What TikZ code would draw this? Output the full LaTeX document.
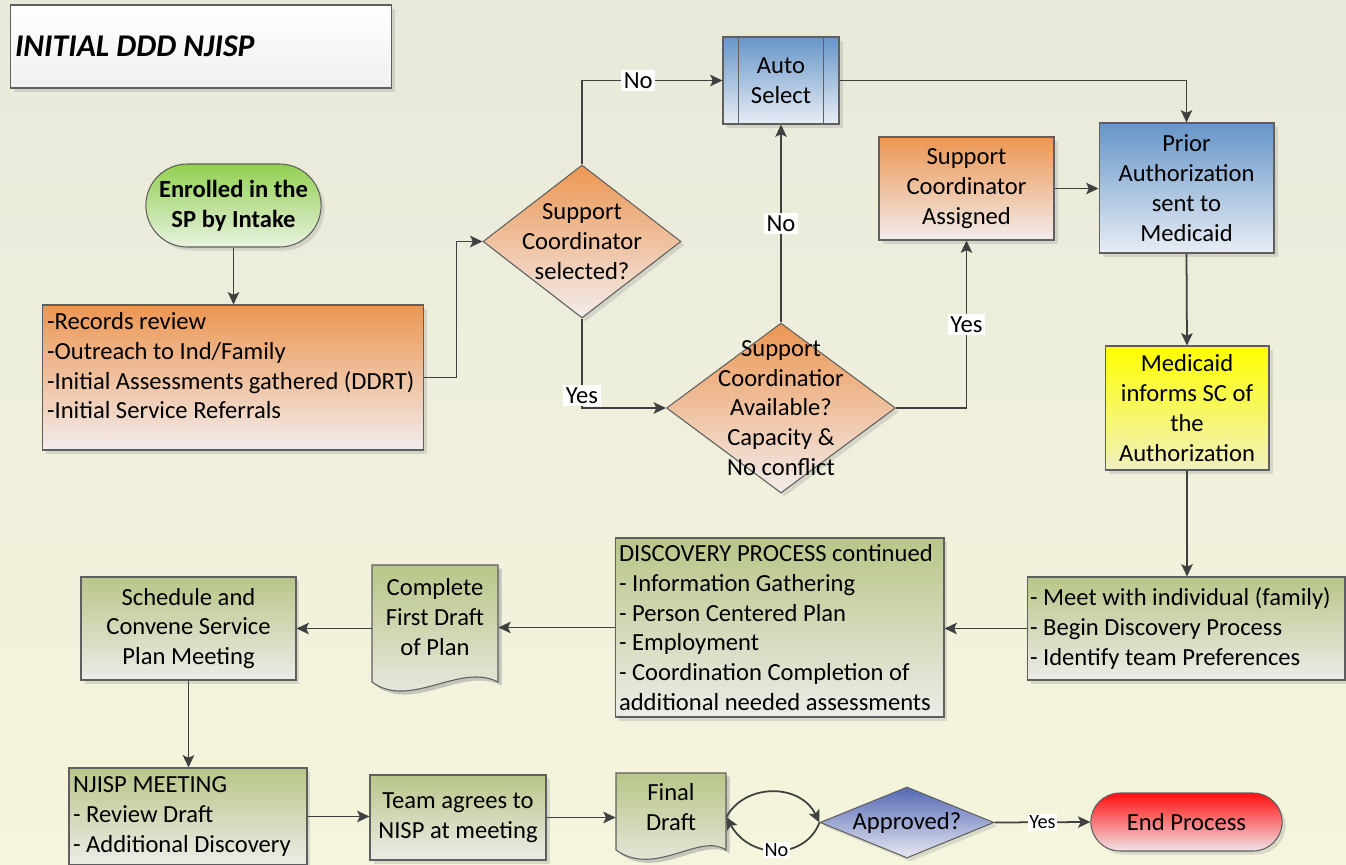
\documentclass[tikz,border=0pt]{standalone}
\usepackage{fontspec}
\setmainfont{Carlito}
\usetikzlibrary{arrows.meta,shapes.geometric,shapes.misc,shadows}
\hyphenpenalty=10000
\exhyphenpenalty=10000

\definecolor{bgtop}{RGB}{233,233,219}
\definecolor{bgbot}{RGB}{245,245,221}
\definecolor{borderC}{RGB}{95,95,95}
\definecolor{lineC}{RGB}{64,64,64}
\definecolor{orangeT}{RGB}{236,150,82}
\definecolor{orangeB}{RGB}{242,236,236}
\definecolor{blueT}{RGB}{102,150,200}
\definecolor{blueB}{RGB}{233,237,245}
\definecolor{greenT}{RGB}{146,208,80}
\definecolor{greenB}{RGB}{232,242,225}
\definecolor{oliveT}{RGB}{184,198,136}
\definecolor{oliveB}{RGB}{236,236,232}
\definecolor{yellowT}{RGB}{255,255,0}
\definecolor{yellowB}{RGB}{240,240,192}
\definecolor{redT}{RGB}{255,15,15}
\definecolor{redB}{RGB}{242,228,232}
\definecolor{apprT}{RGB}{85,105,180}
\definecolor{apprB}{RGB}{232,232,242}
\definecolor{titleB}{RGB}{240,240,240}

\tikzset{
  shade/.style={drop shadow={shadow xshift=2pt,shadow yshift=-2pt,fill=black!40,opacity=0.3}},
  box/.style={rectangle,draw=borderC,line width=0.6pt,align=center,shade},
  listbox/.style={box,align=flush left},
  terminal/.style={rounded rectangle,draw=borderC,line width=0.6pt,align=center,shade},
  decision/.style={diamond,draw=borderC,line width=0.6pt,inner sep=0pt,shade},
  docshape/.style={-,draw=borderC,line width=0.6pt,shade},
  dtext/.style={align=center,inner sep=0pt},
  lbl/.style={fill=white,inner sep=1.5pt},
  lblsmall/.style={fill=white,inner sep=1pt,font=\fontsize{11.5}{13}\selectfont},
  flow/.style={draw=lineC,line width=1pt}
}

\begin{document}
\begin{tikzpicture}[->,>={Stealth[length=7pt,width=6.5pt,inset=1.5pt]},
        x=0.02cm,y=-0.02cm,
        every node/.style={font=\fontsize{14}{17}\selectfont},
        every edge/.append style={draw=lineC,line width=1pt}]

  \useasboundingbox (0,0) rectangle (1346,865);
  \shade[-,top color=bgtop,bottom color=bgbot] (0,0) rectangle (1346,865);

  % heading
  \node[listbox,top color=white,bottom color=titleB,minimum width=7.64cm,minimum height=1.66cm,
        text width=7.44cm,inner xsep=0.1cm,
        font=\fontsize{18}{21}\selectfont\bfseries\itshape] (title) at (201,46.5) {INITIAL DDD NJISP};

  % upper part
  \node[terminal,top color=greenT,bottom color=greenB,minimum width=3.74cm,minimum height=1.66cm,
        font=\fontsize{14}{17}\selectfont\bfseries] (start) at (233.5,205.5) {Enrolled in the\\SP by Intake};
  \node[listbox,top color=orangeT,bottom color=orangeB,minimum width=7.64cm,minimum height=2.9cm,
        text width=7.44cm,inner xsep=0.1cm] (rec) at (233,377.5)
        {-Records review\\-Outreach to Ind/Family\\-Initial Assessments gathered (DDRT)\\-Initial Service Referrals\\[-3.5pt]~};
  \node[decision,top color=orangeT,bottom color=orangeB,minimum width=3.96cm,minimum height=3.06cm,
        label={[dtext]center:Support\\Coordinator\\selected?}] (sel) at (582,241.5) {};
  \node[box,top color=blueT,bottom color=blueB,minimum width=2.32cm,minimum height=1.74cm] (auto) at (781,80.5) {Auto\\Select};
  \draw[docshape] ([xshift=0.32cm]auto.north west) -- ([xshift=0.32cm]auto.south west);
  \draw[docshape] ([xshift=-0.32cm]auto.north east) -- ([xshift=-0.32cm]auto.south east);
  \node[decision,top color=orangeT,bottom color=orangeB,minimum width=4.58cm,minimum height=3.4cm,
        label={[dtext]center:Support\\Coordinatior\\Available?\\Capacity \&\\No conflict}] (avail) at (781,408) {};
  \node[box,top color=orangeT,bottom color=orangeB,minimum width=3.5cm,minimum height=2.06cm] (sca) at (966.5,188.5) {Support\\Coordinator\\Assigned};
  \node[box,top color=blueT,bottom color=blueB,minimum width=3.5cm,minimum height=2.6cm] (prior) at (1186.5,188) {Prior\\Authorization\\sent to\\Medicaid};
  \node[box,top color=yellowT,bottom color=yellowB,minimum width=3.28cm,minimum height=2.48cm] (medi) at (1187,408) {Medicaid\\informs SC of\\the\\Authorization};

  % middle row
  \node[listbox,top color=oliveT,bottom color=oliveB,minimum width=6.36cm,minimum height=2.06cm,
        text width=6.24cm,inner xsep=0.06cm] (meet) at (1186,628.5)
        {- Meet with individual (family)\\- Begin Discovery Process\\- Identify team Preferences};
  \node[listbox,top color=oliveT,bottom color=oliveB,minimum width=6.58cm,minimum height=3.58cm,
        text width=6.42cm,inner xsep=0.08cm] (disc) at (779.5,627.5)
        {DISCOVERY PROCESS continued\\- Information Gathering\\- Person Centered Plan\\- Employment\\- Coordination Completion of\\additional needed assessments};
  \shadedraw[docshape,top color=oliveT,bottom color=oliveB] (372,565) -- (498,565) -- (498,682)
        .. controls (460,662) and (410,710) .. (372,682) -- cycle;
  \node[align=center,minimum width=2.52cm,minimum height=2.1cm] (cfd) at (435,617) {Complete\\First Draft\\of Plan};
  \node[box,top color=oliveT,bottom color=oliveB,minimum width=4.3cm,minimum height=2.06cm] (sched) at (188.5,628.5) {Schedule and\\Convene Service\\Plan Meeting};

  % lower row
  \node[listbox,top color=oliveT,bottom color=oliveB,minimum width=4.76cm,minimum height=1.94cm,
        text width=4.6cm,inner xsep=0.08cm] (njisp) at (188,816.5)
        {NJISP MEETING\\- Review Draft\\- Additional Discovery};
  \node[box,top color=oliveT,bottom color=oliveB,minimum width=3.52cm,minimum height=1.7cm] (team) at (458,817.5) {Team agrees to\\NISP at meeting};
  \shadedraw[docshape,top color=oliveT,bottom color=oliveB] (616,773) -- (726,773) -- (726,850)
        .. controls (700,832) and (655,878) .. (616,850) -- cycle;
  \node[align=center,minimum width=2.2cm,minimum height=1.36cm] (final) at (671,807) {Final\\Draft};
  \node[decision,top color=apprT,bottom color=apprB,minimum width=3.48cm,minimum height=1.42cm,
        label={[dtext]center:Approved?}] (appr) at (907,822.5) {};
  \node[terminal,top color=redT,bottom color=redB,minimum width=4.06cm,minimum height=1.16cm] (endp) at (1186.5,822) {End Process};

  % connectors
  \path (start.south) edge (start.south |- rec.north);
  \draw[flow] (rec.east) -- ++(32,0) |- (sel.west);
  \draw[flow] (sel.north) |- node[lbl,pos=0.7] {No} (auto.west);
  \draw[flow] (sel.south) |- node[lbl,pos=0.43] {Yes} (avail.west);
  \path (avail.north) edge node[lbl] {No} (auto.south);
  \draw[flow] (avail.east) -| node[lbl,pos=0.75] {Yes} (sca.south);
  \path (sca.east) edge (sca.east -| prior.west);
  \draw[flow] (auto.east) -| (prior.north);
  \path (prior.south) edge (medi.north)
        (medi.south) edge (medi.south |- meet.north)
        (meet.west) edge (meet.west -| disc.east)
        (disc.west) edge (disc.west -| cfd.east)
        (cfd.west |- sched.east) edge (sched.east)
        (sched.south) edge (sched.south |- njisp.north)
        (njisp.east) edge (njisp.east -| team.west)
        (team.east) edge (team.east -| final.west);
  \draw[flow] ([yshift=-0.2cm]final.east) .. controls (745,783) and (800,783) .. (appr.west);
  \draw[flow] (appr.west) .. controls (805,860) and (750,860) .. node[lblsmall] {No} ([yshift=-0.2cm]final.east);
  \path (appr.east) edge node[lblsmall] {Yes} (endp.west);

\end{tikzpicture}
\end{document}
